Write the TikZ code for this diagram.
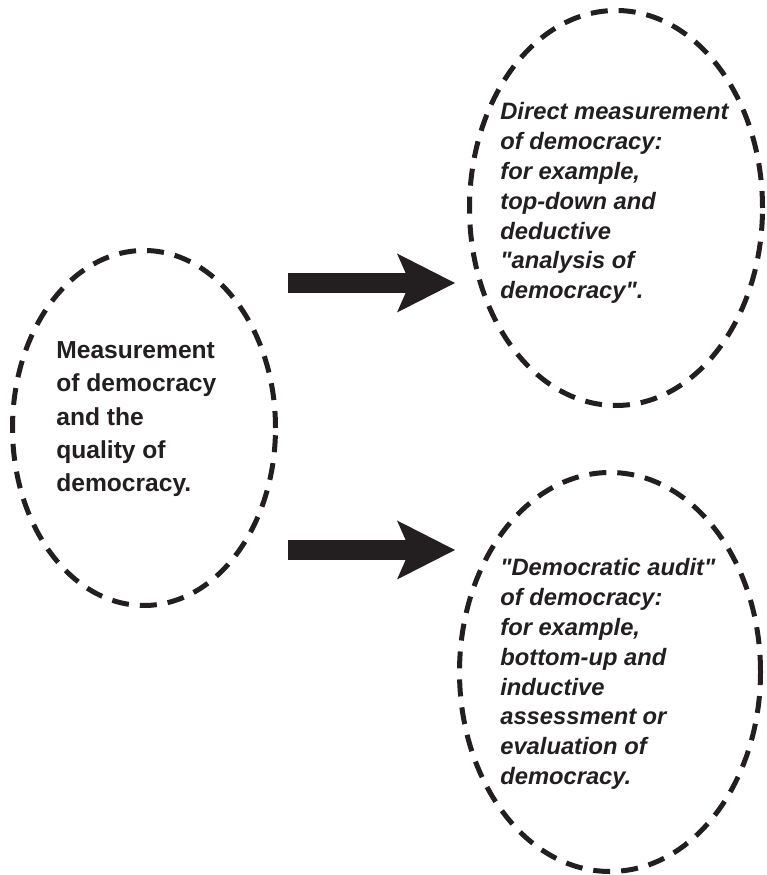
\documentclass[tikz,border=0pt]{standalone}
\usepackage{fontspec}
\setmainfont{Liberation Sans}
\usetikzlibrary{arrows.meta,shapes.geometric,positioning}
\definecolor{ink}{RGB}{35,31,32}
\begin{document}
\begin{tikzpicture}[x=1cm,y=1cm,
  bubble/.style={ellipse,draw=ink,line width=0.1cm,dash pattern=on 0.34cm off 0.22cm,inner sep=0pt},
  fatarrow/.style={draw=ink,line width=0.4cm,-{Stealth[length=1.16cm,width=1.18cm,inset=0.26cm,line width=0pt]}},
  leftnote/.style={align=left,inner sep=0pt,anchor=north west,text=ink,font=\fontsize{14}{19}\selectfont\bfseries},
  rightnote/.style={align=left,inner sep=0pt,anchor=north west,text=ink,font=\fontsize{13.5}{17}\selectfont\bfseries\itshape}]
\useasboundingbox (0,0) rectangle (15.32,17.5);
% the three dashed bubbles
\node[bubble,minimum width=5.26cm,minimum height=7.1cm] (measure) at (2.88,8.94) {};
\node[bubble,minimum width=5.86cm,minimum height=7.9cm] (direct) at (12.32,13.34) {};
\node[bubble,minimum width=6.02cm,minimum height=7.98cm] (audit) at (12.2,4.06) {};
% texts
\node[leftnote] (measuretxt) at (1.12,10.68) {Measurement\\of democracy\\and the\\quality of\\democracy.};
\node[rightnote] (directtxt) at (10.0,15.46) {Direct measurement\\of democracy:\\for example,\\top-down and\\deductive\\\textquotedbl analysis of\\democracy\textquotedbl.};
\node[rightnote] (audittxt) at (10.0,6.34) {\textquotedbl Democratic audit\textquotedbl\\of democracy:\\for example,\\bottom-up and\\inductive\\assessment or\\evaluation of\\democracy.};
% arrows
\coordinate (from1) at (5.76,11.84);
\coordinate (to1) at (9.10,11.84);
\coordinate (from2) at (5.76,6.5);
\coordinate (to2) at (9.10,6.5);
\draw[fatarrow] (from1) -- (to1);
\draw[fatarrow] (from2) -- (to2);
\end{tikzpicture}
\end{document}
